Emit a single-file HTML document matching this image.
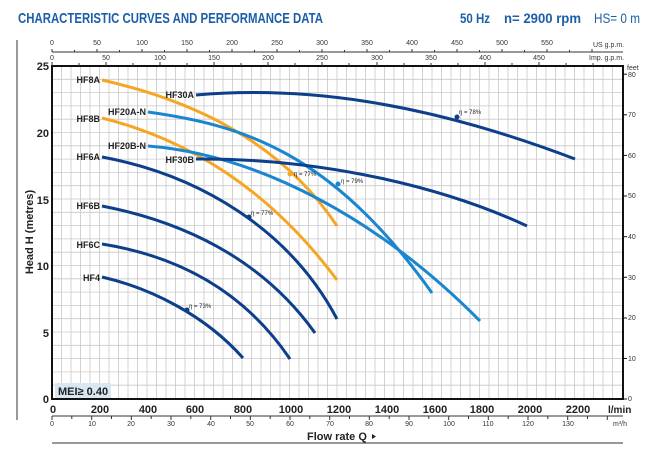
<!DOCTYPE html>
<html><head><meta charset="utf-8"><style>
body{margin:0;background:#fff;width:650px;height:459px;overflow:hidden}
svg{display:block;font-family:"Liberation Sans",sans-serif}
</style></head><body>
<svg width="650" height="459" viewBox="0 0 650 459">
<text x="18" y="23" font-size="15" font-weight="bold" fill="#1d5ea8" textLength="305" lengthAdjust="spacingAndGlyphs">CHARACTERISTIC CURVES AND PERFORMANCE DATA</text>
<text x="460" y="23" font-size="14" font-weight="bold" fill="#1d5ea8" textLength="30" lengthAdjust="spacingAndGlyphs">50 Hz</text>
<text x="504" y="23" font-size="14" font-weight="bold" fill="#1d5ea8" textLength="77" lengthAdjust="spacingAndGlyphs">n= 2900 rpm</text>
<text x="594" y="23" font-size="14" fill="#1d5ea8" textLength="46" lengthAdjust="spacingAndGlyphs">HS= 0 m</text>
<line x1="17" y1="40" x2="17" y2="420" stroke="#333" stroke-width="1"/>
<g stroke="#c8c8c8" stroke-width="0.8">
<line x1="61.5" y1="66" x2="61.5" y2="399"/><line x1="71" y1="66" x2="71" y2="399"/><line x1="80.5" y1="66" x2="80.5" y2="399"/><line x1="90" y1="66" x2="90" y2="399"/><line x1="99.5" y1="66" x2="99.5" y2="399"/><line x1="109" y1="66" x2="109" y2="399"/><line x1="118.5" y1="66" x2="118.5" y2="399"/><line x1="128" y1="66" x2="128" y2="399"/><line x1="137.5" y1="66" x2="137.5" y2="399"/><line x1="147" y1="66" x2="147" y2="399"/><line x1="156.5" y1="66" x2="156.5" y2="399"/><line x1="166" y1="66" x2="166" y2="399"/><line x1="175.5" y1="66" x2="175.5" y2="399"/><line x1="185" y1="66" x2="185" y2="399"/><line x1="194.5" y1="66" x2="194.5" y2="399"/><line x1="204" y1="66" x2="204" y2="399"/><line x1="213.5" y1="66" x2="213.5" y2="399"/><line x1="223" y1="66" x2="223" y2="399"/><line x1="232.5" y1="66" x2="232.5" y2="399"/><line x1="242" y1="66" x2="242" y2="399"/><line x1="251.5" y1="66" x2="251.5" y2="399"/><line x1="261" y1="66" x2="261" y2="399"/><line x1="270.5" y1="66" x2="270.5" y2="399"/><line x1="280" y1="66" x2="280" y2="399"/><line x1="289.5" y1="66" x2="289.5" y2="399"/><line x1="299" y1="66" x2="299" y2="399"/><line x1="308.5" y1="66" x2="308.5" y2="399"/><line x1="318" y1="66" x2="318" y2="399"/><line x1="327.5" y1="66" x2="327.5" y2="399"/><line x1="337" y1="66" x2="337" y2="399"/><line x1="346.5" y1="66" x2="346.5" y2="399"/><line x1="356" y1="66" x2="356" y2="399"/><line x1="365.5" y1="66" x2="365.5" y2="399"/><line x1="375" y1="66" x2="375" y2="399"/><line x1="384.5" y1="66" x2="384.5" y2="399"/><line x1="394" y1="66" x2="394" y2="399"/><line x1="403.5" y1="66" x2="403.5" y2="399"/><line x1="413" y1="66" x2="413" y2="399"/><line x1="422.5" y1="66" x2="422.5" y2="399"/><line x1="432" y1="66" x2="432" y2="399"/><line x1="441.5" y1="66" x2="441.5" y2="399"/><line x1="451" y1="66" x2="451" y2="399"/><line x1="460.5" y1="66" x2="460.5" y2="399"/><line x1="470" y1="66" x2="470" y2="399"/><line x1="479.5" y1="66" x2="479.5" y2="399"/><line x1="489" y1="66" x2="489" y2="399"/><line x1="498.5" y1="66" x2="498.5" y2="399"/><line x1="508" y1="66" x2="508" y2="399"/><line x1="517.5" y1="66" x2="517.5" y2="399"/><line x1="527" y1="66" x2="527" y2="399"/><line x1="536.5" y1="66" x2="536.5" y2="399"/><line x1="546" y1="66" x2="546" y2="399"/><line x1="555.5" y1="66" x2="555.5" y2="399"/><line x1="565" y1="66" x2="565" y2="399"/><line x1="574.5" y1="66" x2="574.5" y2="399"/><line x1="584" y1="66" x2="584" y2="399"/><line x1="593.5" y1="66" x2="593.5" y2="399"/><line x1="603" y1="66" x2="603" y2="399"/><line x1="612.5" y1="66" x2="612.5" y2="399"/>
<line x1="52" y1="79.3" x2="623" y2="79.3"/><line x1="52" y1="92.6" x2="623" y2="92.6"/><line x1="52" y1="105.9" x2="623" y2="105.9"/><line x1="52" y1="119.2" x2="623" y2="119.2"/><line x1="52" y1="132.5" x2="623" y2="132.5"/><line x1="52" y1="145.8" x2="623" y2="145.8"/><line x1="52" y1="159.1" x2="623" y2="159.1"/><line x1="52" y1="172.4" x2="623" y2="172.4"/><line x1="52" y1="185.7" x2="623" y2="185.7"/><line x1="52" y1="199" x2="623" y2="199"/><line x1="52" y1="212.3" x2="623" y2="212.3"/><line x1="52" y1="225.6" x2="623" y2="225.6"/><line x1="52" y1="238.9" x2="623" y2="238.9"/><line x1="52" y1="252.2" x2="623" y2="252.2"/><line x1="52" y1="265.5" x2="623" y2="265.5"/><line x1="52" y1="278.8" x2="623" y2="278.8"/><line x1="52" y1="292.1" x2="623" y2="292.1"/><line x1="52" y1="305.4" x2="623" y2="305.4"/><line x1="52" y1="318.7" x2="623" y2="318.7"/><line x1="52" y1="332" x2="623" y2="332"/><line x1="52" y1="345.3" x2="623" y2="345.3"/><line x1="52" y1="358.6" x2="623" y2="358.6"/><line x1="52" y1="371.9" x2="623" y2="371.9"/><line x1="52" y1="385.2" x2="623" y2="385.2"/>
</g>
<rect x="55" y="383" width="56" height="15" fill="#d8e7f1"/>
<text x="58" y="395" font-size="11" font-weight="bold" fill="#222">MEI≥ 0.40</text>
<rect x="52" y="66" width="571" height="333" fill="none" stroke="#111" stroke-width="2"/>
<g fill="none" stroke-width="3" stroke-linecap="butt">
<path d="M102,80 C190,100 280,140 337,226" stroke="#f5a623"/>
<path d="M102,118 C190,140 270,190 337,280" stroke="#f5a623"/>
<path d="M148,112 C240,125 330,150 432,293" stroke="#1a86d0"/>
<path d="M148,146 C260,155 380,220 480,321" stroke="#1a86d0"/>
<path d="M196,95 C300,86 420,100 575,159" stroke="#0d3f8a"/>
<path d="M196,159 C330,158 450,190 527,226" stroke="#0d3f8a"/>
<path d="M102,157 C200,175 290,230 337,319" stroke="#0d3f8a"/>
<path d="M102,206 C200,225 270,270 315,333" stroke="#0d3f8a"/>
<path d="M102,244 C190,258 250,300 290,359" stroke="#0d3f8a"/>
<path d="M102,277 C150,288 205,315 243,358" stroke="#0d3f8a"/>
</g>
<g font-size="6" fill="#222">
<circle cx="290" cy="174" r="2.5" fill="#f5a623"/><text x="294" y="176">η = 77%</text>
<circle cx="338" cy="184" r="2.5" fill="#1a86d0"/><text x="341" y="183">η = 79%</text>
<circle cx="249" cy="217" r="2.5" fill="#0d3f8a"/><text x="251" y="215">η = 77%</text>
<circle cx="187" cy="310" r="2.5" fill="#0d3f8a"/><text x="189" y="308">η = 73%</text>
<circle cx="457" cy="117" r="2.5" fill="#0d3f8a"/><text x="459" y="114">η = 78%</text>
</g>
<g font-size="9" font-weight="bold" fill="#222" text-anchor="end">
<text x="100" y="83">HF8A</text><text x="100" y="122">HF8B</text><text x="100" y="160">HF6A</text>
<text x="100" y="209">HF6B</text><text x="100" y="248">HF6C</text><text x="100" y="281">HF4</text>
<text x="194" y="98">HF30A</text><text x="194" y="163">HF30B</text>
<text x="146" y="115">HF20A-N</text><text x="146" y="149">HF20B-N</text>
</g>
<g font-size="11" font-weight="bold" fill="#222" text-anchor="end">
<text x="49" y="70">25</text><text x="49" y="137">20</text><text x="49" y="204">15</text><text x="49" y="270">10</text><text x="49" y="337">5</text><text x="49" y="403">0</text>
</g>
<text transform="translate(33,232) rotate(-90)" font-size="11" font-weight="bold" fill="#222" text-anchor="middle">Head H  (metres)</text>
<g stroke="#111" stroke-width="1"><line x1="623" y1="399" x2="627" y2="399"/><line x1="623" y1="358.5" x2="627" y2="358.5"/><line x1="623" y1="318" x2="627" y2="318"/><line x1="623" y1="277.3" x2="627" y2="277.3"/><line x1="623" y1="236.7" x2="627" y2="236.7"/><line x1="623" y1="196" x2="627" y2="196"/><line x1="623" y1="155.4" x2="627" y2="155.4"/><line x1="623" y1="114.8" x2="627" y2="114.8"/><line x1="623" y1="74.2" x2="627" y2="74.2"/></g>
<g font-size="7" fill="#333">
<text x="628" y="401">0</text><text x="628" y="361">10</text><text x="628" y="320">20</text><text x="628" y="280">30</text><text x="628" y="239">40</text><text x="628" y="198">50</text><text x="628" y="158">60</text><text x="628" y="117">70</text><text x="628" y="77">80</text><text x="627" y="70">feet</text>
</g>
<line x1="52" y1="52" x2="623" y2="52" stroke="#333" stroke-width="1"/>
<g font-size="7" fill="#333" text-anchor="middle">
<text x="52" y="45">0</text><text x="97" y="45">50</text><text x="142" y="45">100</text><text x="187" y="45">150</text><text x="232" y="45">200</text><text x="277" y="45">250</text><text x="322" y="45">300</text><text x="367" y="45">350</text><text x="412" y="45">400</text><text x="457" y="45">450</text><text x="502" y="45">500</text><text x="547" y="45">550</text>
<text x="52" y="60">0</text><text x="106" y="60">50</text><text x="160" y="60">100</text><text x="214" y="60">150</text><text x="268" y="60">200</text><text x="322" y="60">250</text><text x="377" y="60">300</text><text x="431" y="60">350</text><text x="485" y="60">400</text><text x="539" y="60">450</text>
</g>
<g font-size="7" fill="#333"><text x="593" y="47">US g.p.m.</text><text x="589" y="60">Imp. g.p.m.</text></g>
<g stroke="#333" stroke-width="1">
<path d="M52,49V52M74.5,50V52M97,49V52M119.5,50V52M142,49V52M164.5,50V52M187,49V52M209.5,50V52M232,49V52M254.5,50V52M277,49V52M299.5,50V52M322,49V52M344.5,50V52M367,49V52M389.5,50V52M412,49V52M434.5,50V52M457,49V52M479.5,50V52M502,49V52M524.5,50V52M547,49V52M569.5,50V52M592,49V52"/>
<path d="M52,62V66M79,63V66M106,62V66M133,63V66M160,62V66M187,63V66M214,62V66M241,63V66M268,62V66M295,63V66M322,62V66M349,63V66M377,62V66M404,63V66M431,63V66M458,63V66M485,62V66M512,63V66M539,62V66M566,63V66M593,63V66"/>
</g>
<g font-size="11" font-weight="bold" fill="#222" text-anchor="middle">
<text x="53" y="413">0</text><text x="100" y="413">200</text><text x="148" y="413">400</text><text x="195" y="413">600</text><text x="243" y="413">800</text><text x="291" y="413">1000</text><text x="339" y="413">1200</text><text x="387" y="413">1400</text><text x="435" y="413">1600</text><text x="482" y="413">1800</text><text x="530" y="413">2000</text><text x="578" y="413">2200</text>
</g>
<text x="608" y="413" font-size="10" font-weight="bold" fill="#222">l/min</text>
<line x1="52" y1="416" x2="623" y2="416" stroke="#333" stroke-width="1"/>
<path d="M52,416V420M71.8,416V419M91.7,416V420M111.5,416V419M131.3,416V420M151.2,416V419M171,416V420M190.8,416V419M210.7,416V420M230.5,416V419M250.3,416V420M270.2,416V419M290,416V420M309.8,416V419M329.7,416V420M349.5,416V419M369.3,416V420M389.2,416V419M409,416V420M428.8,416V419M448.7,416V420M468.5,416V419M488.3,416V420M508.2,416V419M528,416V420M547.8,416V419M567.7,416V420M587.5,416V419M607.3,416V420" stroke="#333" stroke-width="1"/>
<g font-size="7" fill="#333" text-anchor="middle">
<text x="52" y="426">0</text><text x="92" y="426">10</text><text x="131" y="426">20</text><text x="171" y="426">30</text><text x="211" y="426">40</text><text x="250" y="426">50</text><text x="290" y="426">60</text><text x="330" y="426">70</text><text x="369" y="426">80</text><text x="409" y="426">90</text><text x="449" y="426">100</text><text x="488" y="426">110</text><text x="528" y="426">120</text><text x="568" y="426">130</text><text x="620" y="426">m³/h</text>
</g>
<text x="307" y="440" font-size="11" font-weight="bold" fill="#222">Flow rate  Q</text>
<path d="M372,434 l4,2.5 l-4,2.5z" fill="#222"/>
<line x1="52" y1="443" x2="623" y2="443" stroke="#333" stroke-width="1"/>
</svg>
</body></html>
